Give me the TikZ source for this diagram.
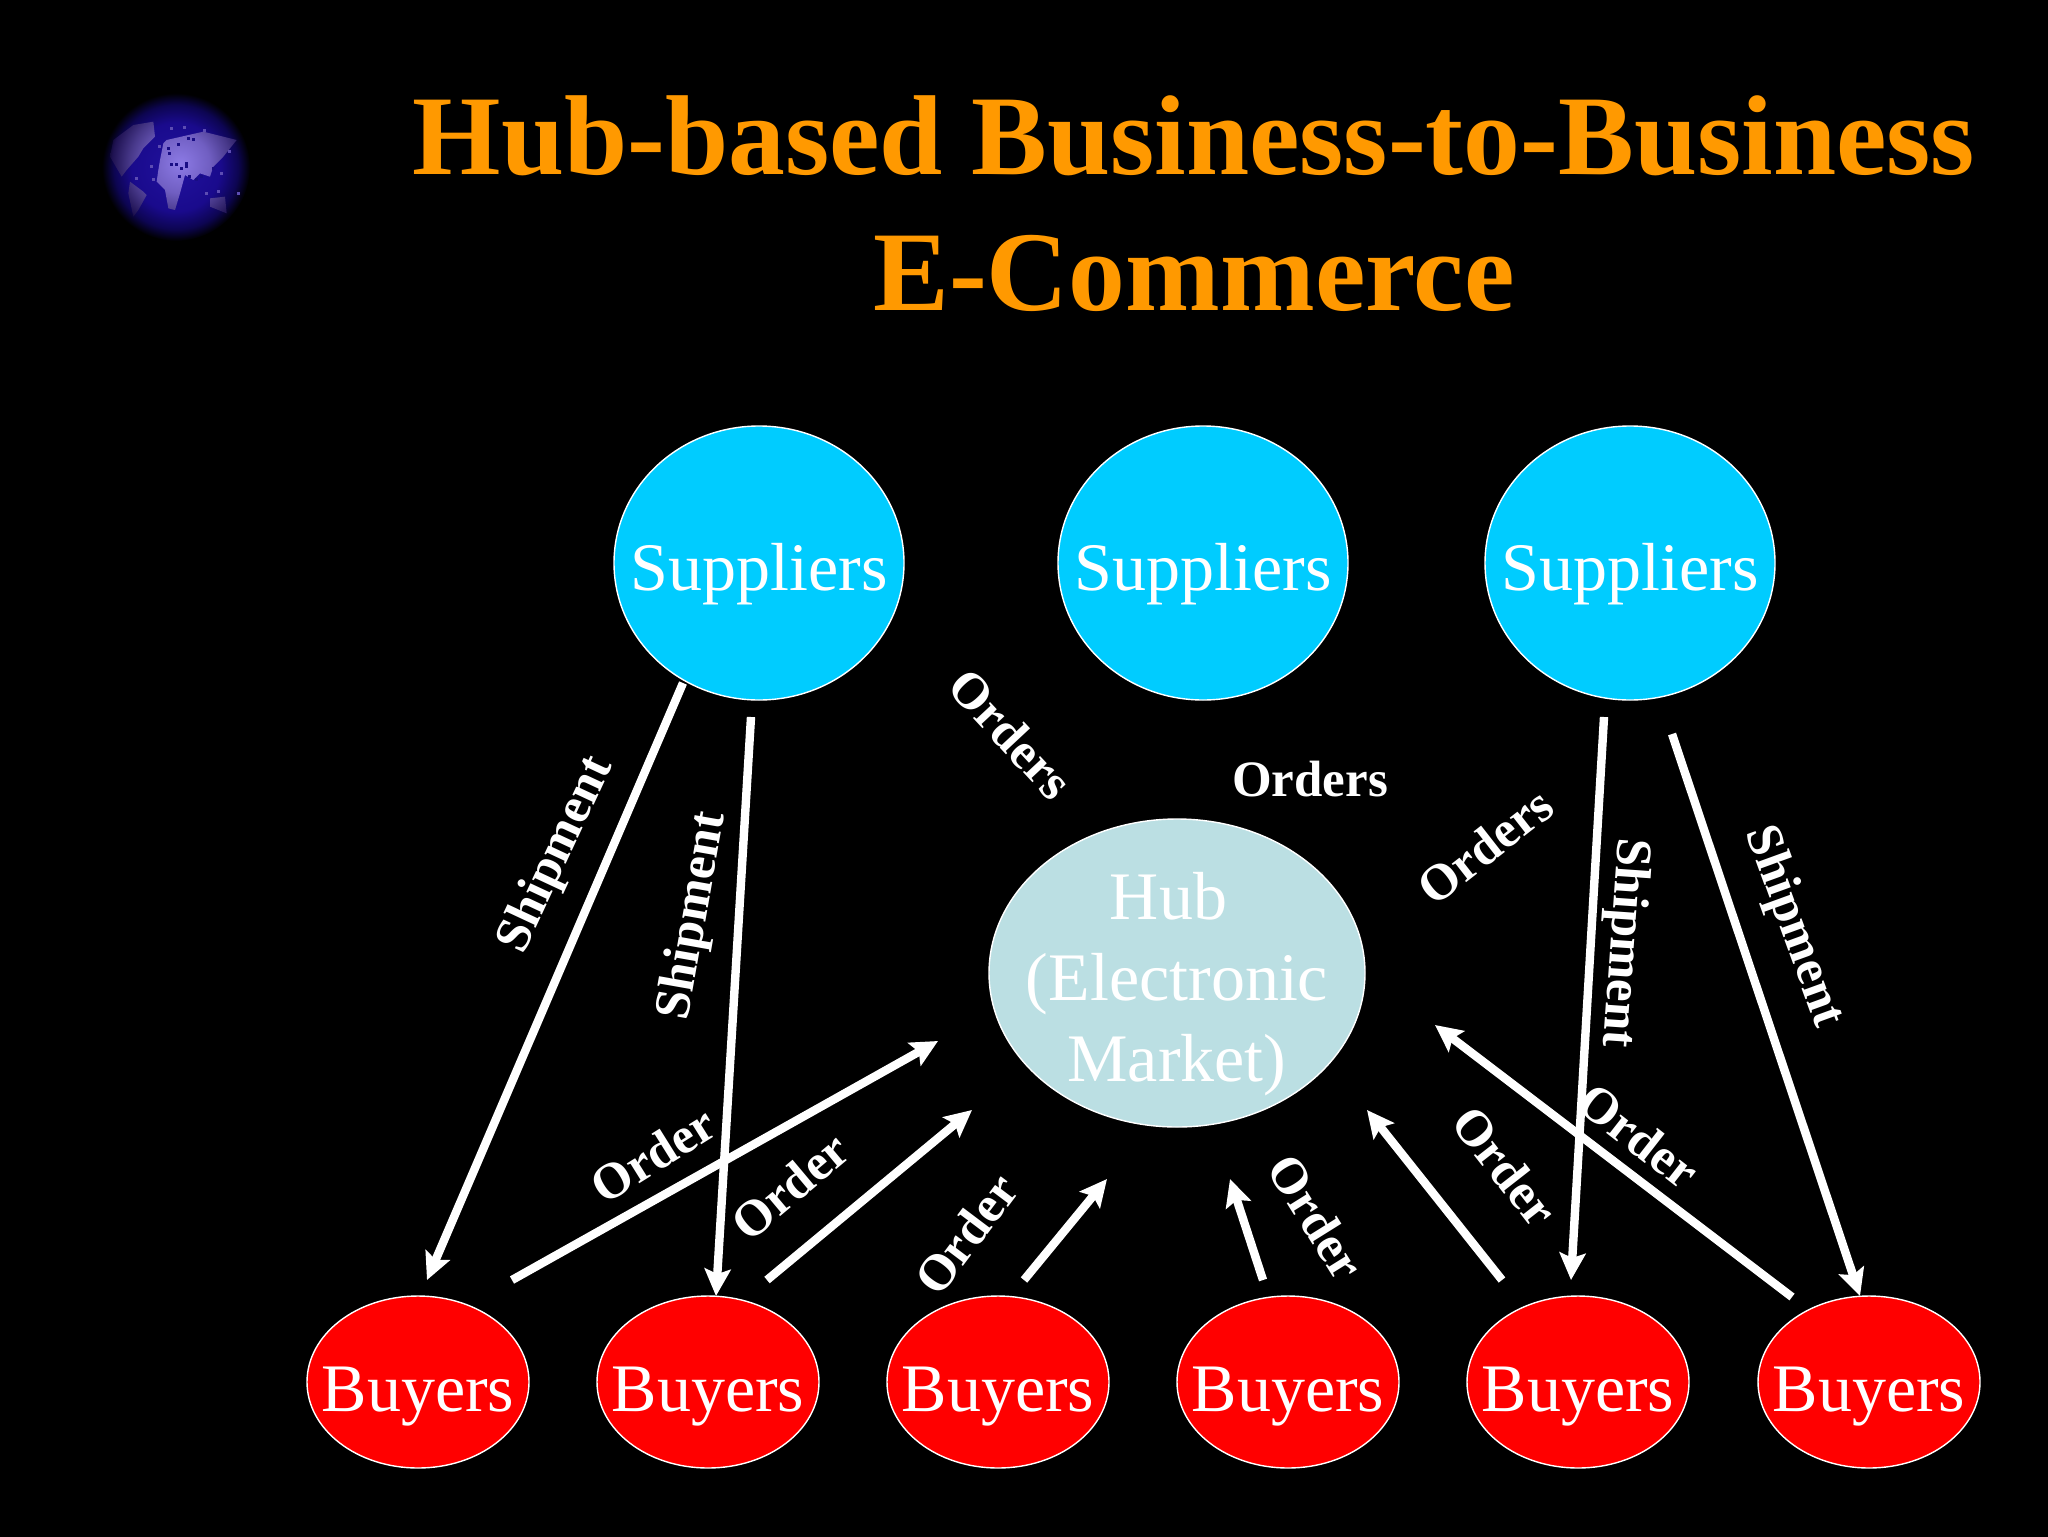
\documentclass[tikz,border=0pt]{standalone}
\usepackage{fontspec}
\setmainfont{Liberation Serif}
\usetikzlibrary{shapes.geometric,arrows.meta,calc}
\definecolor{titleorange}{HTML}{FF9900}
\definecolor{suppliercyan}{HTML}{00CCFF}
\definecolor{hubpale}{HTML}{BBDFE3}
\definecolor{seablue}{rgb}{0.10,0.05,0.52}
\definecolor{landviolet}{rgb}{0.36,0.30,0.70}
\pgfdeclareradialshading{globesea}{\pgfpoint{0bp}{0bp}}{rgb(0bp)=(0.13,0.07,0.62);rgb(15bp)=(0.10,0.04,0.55);rgb(21bp)=(0.05,0.02,0.32);rgb(25bp)=(0,0,0);rgb(50bp)=(0,0,0)}
\pgfdeclareradialshading{globeland}{\pgfpoint{0bp}{0bp}}{rgb(0bp)=(0.55,0.48,0.90);rgb(10bp)=(0.44,0.37,0.76);rgb(17bp)=(0.28,0.22,0.54);rgb(23bp)=(0.12,0.07,0.32);rgb(25bp)=(0.03,0.01,0.15);rgb(50bp)=(0,0,0)}

\begin{document}
\begin{tikzpicture}[x=0.5pt,y=-0.5pt]

	\tikzstyle{title}    = [font=\bfseries\fontsize{56.8}{68}\selectfont, text=titleorange, align=center]
	\tikzstyle{blob}     = [ellipse, draw=white, line width=0.7pt, text=white, inner xsep=-40pt, inner ysep=-20pt, text depth=0pt, font=\fontsize{34}{40.5}\selectfont, align=center]
	\tikzstyle{supplier} = [blob, fill=suppliercyan, text height=27.8pt, minimum width=145pt, minimum height=137pt]
	\tikzstyle{buyer}    = [blob, fill=red, text height=29pt, minimum width=111pt, minimum height=86pt]
	\tikzstyle{hubnode}  = [blob, fill=hubpale, text height=108pt, minimum width=188pt, minimum height=154pt]
	\tikzstyle{tag}      = [font=\bfseries\fontsize{25.5}{30}\selectfont, text=white, inner sep=0pt]
	\tikzstyle{flow}     = [draw=white, line width=4.2pt, -{Stealth[length=13.5pt,width=13pt,inset=2.5pt]}]

	\useasboundingbox (0,0) rectangle (2048,1536);
	\fill[black] (-6,-6) rectangle (2054,1542);

	% globe
	\shade[shading=globesea] (176,167) circle [radius=37pt];
	\begin{scope}[x=0.16667pt,y=-0.16667pt,shift={(180,180)}]
		\begin{scope}
			\clip (320,240) -- (430,215) -- (530,240) -- (490,290) -- (460,320) -- (450,350) -- (420,340) -- (400,360) -- (375,345) -- (360,400) -- (345,450) -- (325,445) -- (315,390) -- (290,365) -- (295,330) -- (300,300) -- (310,250) -- cycle
				(220,195) -- (280,185) -- (285,230) -- (250,265) -- (235,290) -- (200,330) -- (185,350) -- (150,290) -- (160,240) -- cycle
				(210,365) -- (250,395) -- (260,405) -- (235,450) -- (220,470) -- (205,400) -- cycle
				(450,415) -- (495,410) -- (500,460) -- (450,440) -- cycle;
			\shade[shading=globeland] (360,310) circle [radius=37pt];
		\end{scope}
		% speckles
		\foreach \px/\py in {320/260,325/275,330/310,345/310,360/320,375/305,375/315,355/345,385/345,405/355,420/345,350/250,395/235,380/230,455/320}
			\fill[seablue] (\px,\py) rectangle ++(9,9);
		\foreach \px/\py in {330/200,370/198,428/208,295/255,270/315,275/355,225/350,480/335,505/270,470/390,435/395,530/395}
			\fill[landviolet] (\px,\py) rectangle ++(9,9);
	\end{scope}

	\node [title](heading) at (1194,204) {Hub-based Business-to-Business\\E-Commerce};

	\node [supplier](s1) at (759,563) {Suppliers};
	\node [supplier](s2) at (1203,563) {Suppliers};
	\node [supplier](s3) at (1630,563) {Suppliers};
	\node [hubnode](hub) at (1177,973) {Hub\kern0.25em\\(Electronic\\Market)};
	\node [buyer](b1) at (418,1382) {Buyers};
	\node [buyer](b2) at (708,1382) {Buyers};
	\node [buyer](b3) at (998,1382) {Buyers};
	\node [buyer](b4) at (1288,1382) {Buyers};
	\node [buyer](b5) at (1578,1382) {Buyers};
	\node [buyer](b6) at (1869,1382) {Buyers};

	% arrow ends, taken from the node they belong to
	\foreach \name/\ref/\dx/\dy in {
		ship1a/s1/-76/120, ship1b/b1/9/-102,
		ship2a/s1/-8/154, ship2b/b2/8/-86,
		ship3a/s3/-26/154, ship3b/b5/-7/-102,
		ship4a/s3/42/171, ship4b/b6/-9/-86,
		ord1a/b1/94/-102, ord1b/hub/-239/68,
		ord2a/b2/59/-102, ord2b/hub/-205/137,
		ord3a/b3/26/-102, ord3b/hub/-70/206,
		ord4a/b4/-25/-102, ord4b/hub/53/206,
		ord5a/b5/-76/-102, ord5b/hub/190/137,
		ord6a/b6/-77/-85, ord6b/hub/258/52}
		\coordinate (\name) at ($(\ref)+(\dx,\dy)$);

	\foreach \i in {1,...,4}
		\draw [flow] (ship\i a) -- (ship\i b);
	\foreach \i in {1,...,6}
		\draw [flow] (ord\i a) -- (ord\i b);

	\node [tag, rotate=65](shiptag1) at (557,855) {Shipment};
	\node [tag, rotate=80](shiptag2) at (694,916) {Shipment};
	\node [tag, rotate=-94](shiptag3) at (1623,943) {Shipment};
	\node [tag, rotate=-70](shiptag4) at (1793,927) {Shipment};
	\node [tag, rotate=-47](orderstag1) at (1011,734) {Orders};
	\node [tag](orderstag2) at (1310,779) {Orders};
	\node [tag, rotate=38](orderstag3) at (1485,846) {Orders};
	\node [tag, rotate=32](ordertag1) at (653,1155) {Order};
	\node [tag, rotate=40](ordertag2) at (790,1186) {Order};
	\node [tag, rotate=53](ordertag3) at (966,1234) {Order};
	\node [tag, rotate=-58](ordertag4) at (1316,1217) {Order};
	\node [tag, rotate=-52](ordertag5) at (1505,1166) {Order};
	\node [tag, rotate=-38](ordertag6) at (1639,1136) {Order};

\end{tikzpicture}
\end{document}
